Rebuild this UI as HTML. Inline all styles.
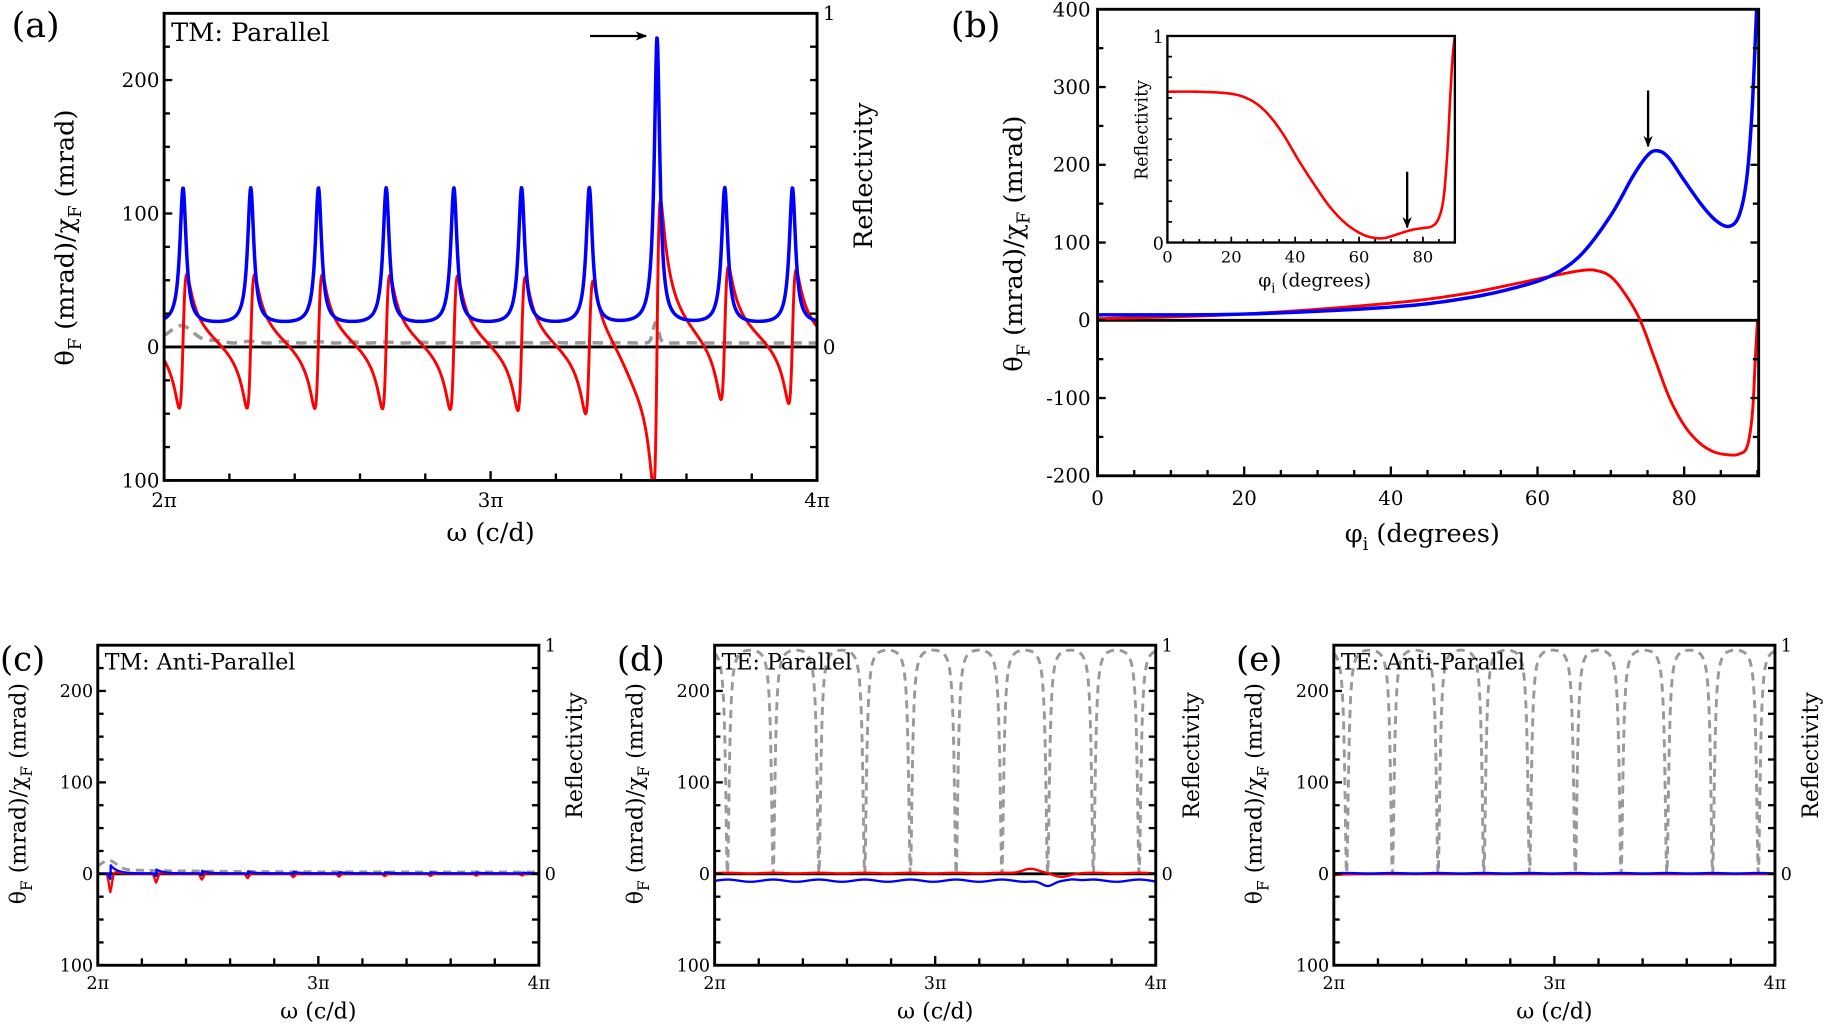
<!DOCTYPE html>
<html><head><meta charset="utf-8">
<style>
html,body{margin:0;padding:0;background:#fff;}
svg{display:block;}
text{font-family:"DejaVu Serif","Liberation Serif",serif;fill:#000;}
</style></head>
<body>
<svg id="mainsvg" xmlns="http://www.w3.org/2000/svg" width="1825" height="1027" viewBox="0 0 1568 885" preserveAspectRatio="none">
<g id="gg"></g>
</svg>
<script>
(function(){
var out=[];var defs=[];var clipN=0;
function L(x1,y1,x2,y2,w){out.push('<line x1="'+x1+'" y1="'+y1+'" x2="'+x2+'" y2="'+y2+'" stroke="#000" stroke-width="'+(w||2)+'"/>');}
function T(x,y,s,size,anchor){out.push('<text x="'+x+'" y="'+y+'" font-size="'+size+'" text-anchor="'+(anchor||'start')+'">'+s+'</text>');}
function PATH(pts,color,w,dash,clip){var d='';for(var i=0;i<pts.length;i++){var p=pts[i];if(!isFinite(p[0])||!isFinite(p[1]))continue;d+=(d?'L':'M')+p[0].toFixed(2)+','+p[1].toFixed(2);}
 out.push('<path d="'+d+'" fill="none" stroke="'+color+'" stroke-width="'+w+'" stroke-linejoin="round"'+(dash?' stroke-dasharray="'+dash+'"':'')+(clip?' clip-path="url(#'+clip+')"':'')+'/>');}
function CLIP(x,y,w,h){var id='cp'+(clipN++);defs.push('<clipPath id="'+id+'"><rect x="'+x+'" y="'+y+'" width="'+w+'" height="'+h+'"/></clipPath>');return id;}
function RECT(x,y,w,h,sw,fill){out.push('<rect x="'+x+'" y="'+y+'" width="'+w+'" height="'+h+'" fill="'+(fill||'none')+'" stroke="'+(sw?'#000':'none')+'" stroke-width="'+(sw||0)+'"/>');}
function YT(x,y,size){var s=size*0.7,dy=size*0.3;
 out.push('<text x="0" y="0" font-size="'+size+'" text-anchor="middle" transform="translate('+x+','+y+') rotate(-90)">θ<tspan font-size="'+s+'" dy="'+dy+'">F</tspan><tspan dy="'+(-dy)+'"> (mrad)/χ</tspan><tspan font-size="'+s+'" dy="'+dy+'">F</tspan><tspan dy="'+(-dy)+'"> (mrad)</tspan></text>');}
function RT(x,y,size,s){out.push('<text x="0" y="0" font-size="'+size+'" text-anchor="middle" transform="translate('+x+','+y+') rotate(-90)">'+s+'</text>');}
function ARROW(x1,y1,x2,y2){out.push('<line x1="'+x1+'" y1="'+y1+'" x2="'+x2+'" y2="'+y2+'" stroke="#000" stroke-width="2" marker-end="url(#ah)"/>');}

var PER=0.1037,F0=0.029;
function cotparts(f,g){var u=Math.PI*(f-F0)/PER;var den=Math.cosh(2*g)-Math.cos(2*u);return [Math.sin(2*u)/den,Math.sinh(2*g)/den,u];}

function omegaPanel(o){
 var x0=o.x0,x1=o.x1,tp=o.tp,zero=o.zero,k=o.k,fs=o.fs,tl=o.tl;
 var bot=zero+100*k,W=x1-x0;
 var cid=CLIP(x0,tp,W,bot-tp);
 function Y(v){return zero-v*k;} function R(r){return zero-r*(zero-tp);}
 var N=1500,red=[],blue=[],gray=[];
 for(var i=0;i<=N;i++){var f=i/N;var s=o.fn(f);var x=x0+f*W;gray.push([x,R(s.gray)]);red.push([x,Y(s.red)]);blue.push([x,Y(s.blue)]);}
 PATH(gray,'#999',o.gw||3,o.gd||'9,6',cid);
 L(x0,zero,x1,zero,2.5);
 PATH(red,'#f00',o.rw||2.5,null,cid);
 PATH(blue,'#00f',o.bw||3,null,cid);
 RECT(x0,tp,W,bot-tp,2.5);
 for(var v=-100;v<=250;v+=25){var y=Y(v);L(x0,y,x0+(v%100==0?7:5),y,2);}
 for(var j=-3;j<=10;j++){var y2=R(j/10);if(y2>bot)continue;L(x1-6,y2,x1,y2,2);}
 for(var j2=0;j2<=10;j2++){var xx=x0+j2*W/10;L(xx,bot,xx,bot-(j2%5==0?8:6),2);}
 [['200',200],['100',100],['0',0],['100',-100]].forEach(function(a){T(x0-4,Y(a[1])+fs*0.35,a[0],fs,'end');});
 T(x1+5,R(1)+fs*0.35,'1',fs);T(x1+5,R(0)+fs*0.35,'0',fs);
 T(x0,bot+fs*1.35,'2π',fs,'middle');T(x0+W/2,bot+fs*1.35,'3π',fs,'middle');T(x1,bot+fs*1.35,'4π',fs,'middle');
 T(x0+W/2,bot+tl.xt,'ω (c/d)',tl.size,'middle');
 YT(x0+tl.yx,(tp+bot)/2+tl.yoff,tl.size);
 RT(x1+tl.rx,tp+tl.ry,tl.size,'Reflectivity');
 T(o.lx,o.ly,o.label,tl.lab);
 T(x0+6,tp+tl.size+2,o.title,tl.size);
}
function teGray(f){var u=Math.PI*(f-F0)/PER;var s=Math.pow(Math.sin(u),2);return 45*s/(1+45*s);}
var tlb={size:19,xt:46,yx:-62,yoff:-10,rx:37,ry:95,lab:29};

try{
omegaPanel({x0:141,x1:702,tp:11.5,zero:299,k:1.15,fs:17,label:'(a)',lx:10,ly:32,title:'TM: Parallel',
 tl:{size:22,xt:52,yx:-78,yoff:-8,rx:47,ry:140,lab:30},
 fn:function(f){var c=cotparts(f,0.176);var d=f-0.755;
  var blue=16+18*c[1]+113/(1+Math.pow(d/0.0045,2));
  var red=5+18*c[0]+0.55*d/(d*d+0.005*0.005)-(d<0?12*Math.exp(-Math.pow((d+0.03)/0.03,2)):0);
  var gray=0.012+0.045*Math.exp(-Math.pow((f-0.025)/0.03,2))+0.008*Math.pow(Math.cos(2*Math.PI*(f-F0)/PER),2)*Math.exp(-f/0.3)+0.06*Math.exp(-Math.pow((d+0.002)/0.006,2));
  return {red:red,blue:blue,gray:gray};}});
ARROW(507,31,555,31);
}catch(e){}

try{
omegaPanel({x0:84,x1:463,tp:556,zero:753,k:0.788,fs:15,label:'(c)',lx:0,ly:578,title:'TM: Anti-Parallel',tl:tlb,rw:2,bw:2,gw:2.5,gd:'7,5',
 fn:function(f){var red=0,blue=0;for(var j=0;j<10;j++){var fk=F0+j*PER;var a=1/(1+j*1.1);var d=f-fk;
   red+=-20*a*Math.exp(-Math.pow(d/0.005,2))+(d>0?3*a*Math.exp(-d/0.02):0);
   blue+=(d>0?9*a*Math.exp(-d/0.015):-6*a*Math.exp(-Math.pow(d/0.004,2)));}
  var gray=0.008+0.04*Math.exp(-Math.pow((f-0.025)/0.025,2))+0.012*Math.exp(-f/0.2);
  return {red:red,blue:blue+0.5,gray:gray};}});
}catch(e){}
try{
omegaPanel({x0:614,x1:993,tp:556,zero:753,k:0.788,fs:15,label:'(d)',lx:530,ly:578,title:'TE: Parallel',tl:tlb,rw:2,bw:2,gw:2.5,gd:'7,5',
 fn:function(f){var u=Math.PI*(f-F0)/PER;
  var red=0.8+0.4*Math.cos(2*u)+5*Math.exp(-Math.pow((f-0.715)/0.025,2))-4*Math.exp(-Math.pow((f-0.785)/0.025,2));
  var blue=-7.5+1.2*Math.cos(2*u)-7*Math.exp(-Math.pow((f-0.755)/0.02,2))+2.5*Math.exp(-Math.pow((f-0.81)/0.02,2));
  return {red:red,blue:blue,gray:teGray(f)};}});
}catch(e){}
try{
omegaPanel({x0:1146,x1:1525,tp:556,zero:753,k:0.788,fs:15,label:'(e)',lx:1062,ly:578,title:'TE: Anti-Parallel',tl:tlb,rw:2,bw:2,gw:2.5,gd:'7,5',
 fn:function(f){return {red:-1.5*Math.exp(-f/0.03),blue:0.6+0.3*Math.cos(Math.PI*(f-F0)/PER*2),gray:teGray(f)};}});
}catch(e){}

try{
 var x0=943,x1=1511,tp=8,zero=276,bot=410,k=0.67;
 var X=function(d){return x0+d*6.3;}, Y=function(v){return zero-v*k;};
 var cid=CLIP(x0,tp,x1-x0,bot-tp);
 var spline=function(pts,n){var res=[];for(var i=0;i<pts.length-1;i++){var p0=pts[Math.max(0,i-1)],p1=pts[i],p2=pts[i+1],p3=pts[Math.min(pts.length-1,i+2)];
  for(var t=0;t<n;t++){var s=t/n,s2=s*s,s3=s2*s;
   var cr=function(a,b,c,d){return 0.5*((2*b)+(-a+c)*s+(2*a-5*b+4*c-d)*s2+(-a+3*b-3*c+d)*s3);};
   res.push([cr(p0[0],p1[0],p2[0],p3[0]),cr(p0[1],p1[1],p2[1],p3[1])]);}}res.push(pts[pts.length-1]);return res;};
 var blue=[[0,7],[20,8],[40,17],[50,28],[57,42],[62,58],[66,85],[70,135],[73,185],[75,212],[76.3,218],[77.8,210],[80,180],[82.5,147],[84.5,127],[86.2,121],[87.5,135],[88.5,180],[89.2,260],[89.7,360],[90,430]];
 var red=[[0,2],[20,8],[40,22],[50,34],[57,47],[62,57],[66,64],[68,64],[70,56],[72,33],[74,0],[76,-50],[78,-100],[80,-135],[82,-157],[84,-169],[86,-173],[87.5,-172],[88.6,-162],[89.3,-120],[89.7,-50],[90,0]];
 var tr=function(arr){return arr.map(function(p){return [X(p[0]),Y(p[1])];});};
 L(x0,zero,x1,zero,2.5);
 PATH(spline(tr(red),12),'#f00',2.5,null,cid);
 PATH(spline(tr(blue),12),'#00f',3,null,cid);
 RECT(x0,tp,x1-x0,bot-tp,2.5);
 for(var v=-200;v<=400;v+=50){L(x0,Y(v),x0+(v%100==0?7:5),Y(v),2);L(x1,Y(v),x1-(v%100==0?7:5),Y(v),2);}
 for(var d=0;d<=90;d+=5){L(X(d),bot,X(d),bot-(d%20==0?8:5),2);}
 [400,300,200,100,0,-100,-200].forEach(function(v){T(x0-6,Y(v)+6,String(v),17,'end');});
 [0,20,40,60,80].forEach(function(d){T(X(d),bot+25,String(d),17,'middle');});
 out.push('<text x="'+((x0+x1)/2-5)+'" y="'+(bot+57)+'" font-size="22" text-anchor="middle">φ<tspan font-size="15" dy="7">i</tspan><tspan dy="-7"> (degrees)</tspan></text>');
 YT(878,210,22);
 T(817,32,'(b)',30);
 ARROW(1416,78,1416,126);
 var ix0=1003,ix1=1250,it=31,ib=209;
 var IX=function(d){return ix0+d*(ix1-ix0)/90;},IY=function(r){return ib-r*(ib-it);};
 RECT(ix0-4,it-4,ix1-ix0+8,ib-it+8,0,'#fff');
 var ir=[[0,.73],[10,.73],[20,.72],[26,.69],[31,.63],[36,.53],[41,.4],[46,.28],[51,.17],[56,.09],[61,.04],[65,.022],[68,.022],[71,.035],[74,.05],[77,.063],[80,.07],[83,.08],[85,.12],[86.5,.22],[87.7,.45],[88.6,.72],[89.3,.9],[90,1]];
 var icid=CLIP(ix0,it-2,ix1-ix0,ib-it+4);
 PATH(spline(ir.map(function(p){return [IX(p[0]),IY(p[1])];}),10),'#f00',2.2,null,icid);
 RECT(ix0,it,ix1-ix0,ib-it,2);
 for(var d2=0;d2<=90;d2+=5)L(IX(d2),ib,IX(d2),ib-(d2%20==0?5:3),1.5);
 for(var r=0;r<=10;r++)L(ix0,IY(r/10),ix0+4,IY(r/10),1.5);
 T(ix0-3,IY(1)+6,'1',15,'end');T(ix0-3,IY(0)+6,'0',15,'end');
 [0,20,40,60,80].forEach(function(d){T(IX(d),ib+17,String(d),14,'middle');});
 out.push('<text x="'+((ix0+ix1)/2+3)+'" y="'+(ib+38)+'" font-size="16" text-anchor="middle">φ<tspan font-size="11" dy="5">i</tspan><tspan dy="-5"> (degrees)</tspan></text>');
 RT(ix0-17,(it+ib)/2-8,15,'Reflectivity');
 ARROW(1209,148,1209,196);
}catch(e){}

var svg=document.getElementById('mainsvg');
var markup='<defs><marker id="ah" markerWidth="10" markerHeight="8" refX="9" refY="4" orient="auto" markerUnits="userSpaceOnUse"><path d="M0,0 L10,4 L0,8 L3,4 z" fill="#000"/></marker>'+defs.join('')+'</defs>'+out.join('');
svg.innerHTML=markup;
})();
</script>
</body></html>
